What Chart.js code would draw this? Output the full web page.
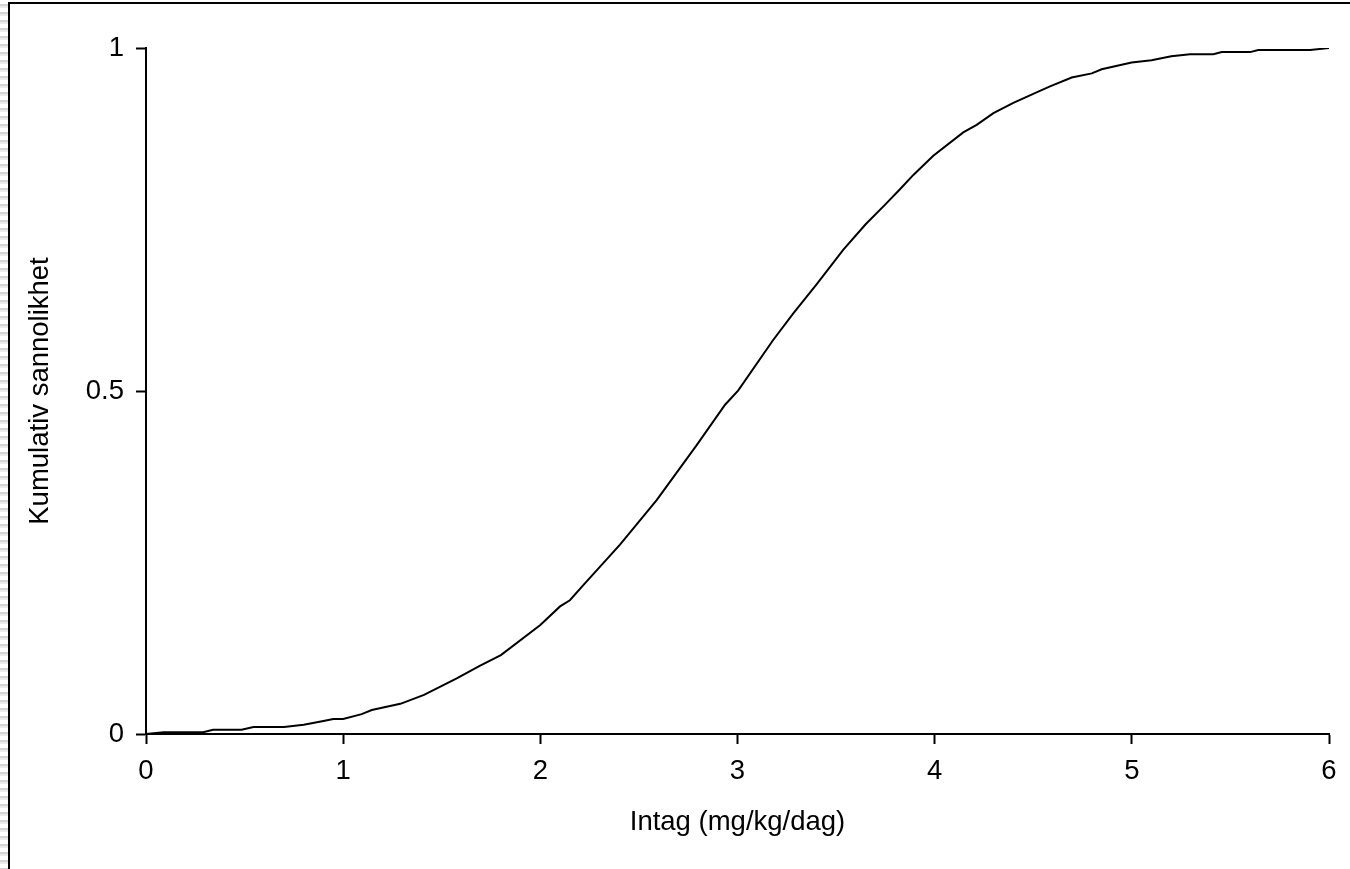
<!DOCTYPE html>
<html>
<head>
<meta charset="utf-8">
<script src="https://cdn.jsdelivr.net/npm/chart.js@4/dist/chart.umd.min.js"></script>
<style>
  html, body { margin: 0; padding: 0; background: #fff; }
  #frame {
    position: absolute; left: 0; top: 0; width: 1350px; height: 869px; overflow: hidden;
  }
  #hatch {
    position: absolute; left: 0; top: 0; width: 8px; height: 869px;
    background: repeating-linear-gradient(to bottom, #fff 0px, #fff 4px, #d4d4d4 4px, #d4d4d4 6px, #ececec 6px, #ececec 8px);
  }
  #box {
    position: absolute; left: 8px; top: 2px; width: 1400px; height: 900px;
    border-left: 2px solid #000; border-top: 2px solid #000;
  }
  canvas { position: absolute; left: 0; top: 0; }
</style>
</head>
<body>
<div id="frame">
  <div id="hatch"></div>
  <div id="box"></div>
  <canvas id="cdfCanvas" width="1350" height="869"></canvas>
</div>
<script>
    "use strict";

    // cumulative distribution
    var intake = [0, 0.09, 0.29, 0.34, 0.485, 0.545, 0.70, 0.80, 0.90, 0.95, 1.0, 1.094, 1.145, 1.29, 1.41,
        1.576, 1.69, 1.80, 2.0, 2.10, 2.15, 2.218, 2.404, 2.59, 2.793, 2.937, 3.004, 3.18, 3.283, 3.40,
        3.537, 3.65, 3.75, 3.824, 3.892, 3.993, 4.145, 4.213, 4.298, 4.399, 4.50, 4.585, 4.695, 4.797,
        4.847, 4.999, 5.10, 5.20, 5.295, 5.413, 5.456, 5.60, 5.641, 5.904, 6.0];
    var probability = [0, 0.0025, 0.0025, 0.0063, 0.0063, 0.0102, 0.0102, 0.0136, 0.019, 0.022, 0.022, 0.029, 0.035, 0.044, 0.057,
        0.081, 0.099, 0.115, 0.159, 0.186, 0.195, 0.217, 0.276, 0.341, 0.421, 0.480, 0.501, 0.574, 0.613, 0.655,
        0.706, 0.743, 0.772, 0.794, 0.815, 0.843, 0.877, 0.888, 0.905, 0.920, 0.933, 0.944, 0.957, 0.963,
        0.969, 0.979, 0.982, 0.988, 0.991, 0.991, 0.994, 0.994, 0.997, 0.997, 1.0];
    var xTickLabels = ['0', '1', '2', '3', '4', '5', '6'];
    var yTickLabels = ['0', '0.5', '1'];
    var xTitle = 'Intag (mg/kg/dag)';
    var yTitle = 'Kumulativ sannolikhet';

    var points = intake.map(function (x, i) { return {x: x, y: probability[i]}; });
    var font = {family: "'Liberation Sans', Arial, sans-serif", size: 27.5};

    var ctx = document.getElementById("cdfCanvas").getContext("2d");
    new Chart(ctx, {
        type: 'scatter',
        data: {
            datasets: [{
                data: points,
                showLine: true,
                borderColor: '#000',
                borderWidth: 2,
                pointRadius: 0,
                tension: 0,
                fill: false
            }]
        },
        options: {
            responsive: false,
            animation: false,
            devicePixelRatio: 1,
            layout: {padding: {top: 48, right: 21, left: 0, bottom: 0}},
            plugins: {legend: {display: false}, tooltip: {enabled: false}},
            scales: {
                x: {
                    type: 'linear', min: 0, max: 6,
                    afterFit: function (scale) { scale.height = 135; },
                    ticks: {
                        stepSize: 1, color: '#000', font: font, padding: 11, maxRotation: 0, autoSkip: false,
                        callback: function (v, i) { return xTickLabels[i]; }
                    },
                    grid: {drawOnChartArea: false, drawTicks: true, tickLength: 10, tickWidth: 2, tickColor: '#000'},
                    border: {display: true, color: '#000', width: 2},
                    title: {display: true, text: xTitle, color: '#000', font: font, padding: {top: 0, bottom: 30}}
                },
                y: {
                    type: 'linear', min: 0, max: 1,
                    afterFit: function (scale) { scale.width = 146; },
                    ticks: {
                        stepSize: 0.5, color: '#000', font: font, padding: 12,
                        callback: function (v, i) { return yTickLabels[i]; }
                    },
                    grid: {drawOnChartArea: false, drawTicks: true, tickLength: 10, tickWidth: 2, tickColor: '#000'},
                    border: {display: true, color: '#000', width: 2},
                    title: {display: true, text: yTitle, color: '#000', font: font, padding: {top: 24, bottom: 0}}
                }
            }
        }
    });
</script>
</body>
</html>
